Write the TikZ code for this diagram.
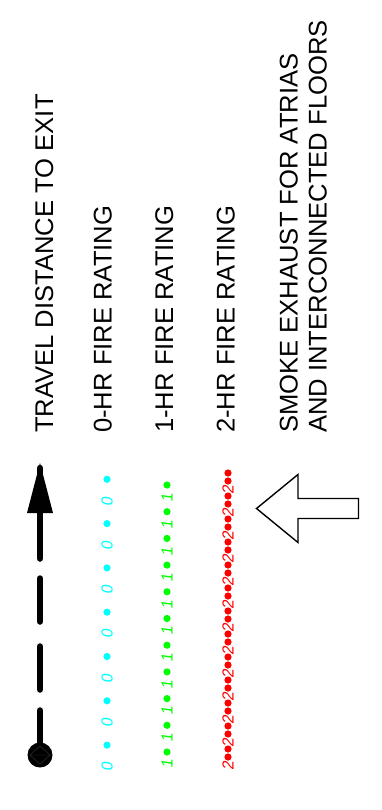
\documentclass[tikz,border=0pt]{standalone}
\usepackage{fontspec}
\setmainfont{Liberation Sans}
\newfontfamily\cadfont[FakeSlant=0.15]{Liberation Sans}
\definecolor{cadcyan}{RGB}{0,255,255}
\definecolor{cadgreen}{RGB}{0,255,0}
\definecolor{cadred}{RGB}{255,0,0}

\begin{document}
\begin{tikzpicture}[x=1pt,y=-1pt,
  legendtext/.style={rotate=90, anchor=base west, inner sep=0pt,
    font=\fontsize{25.6}{29}\selectfont},
  linetext/.style={rotate=90, inner sep=0pt, text=#1,
    font=\cadfont\fontsize{16}{16}\selectfont},
  linedot/.style={circle, fill=#1, inner sep=0pt, minimum size=7.2pt},
  travel/.style={line width=6.5pt, line cap=round},
  exhaust/.style={line width=1.4pt, line join=miter}]
\useasboundingbox (0,0) rectangle (382,810);

% ---- legend texts ----
\node[legendtext] (ttravel) at (53,433)    {TRAVEL DISTANCE TO EXIT};
\node[legendtext] (tzero)   at (111.5,433) {0-HR FIRE RATING};
\node[legendtext] (tone)    at (173,433)   {1-HR FIRE RATING};
\node[legendtext] (ttwo)    at (234.5,433) {2-HR FIRE RATING};
\node[legendtext] (tsmokea) at (297.5,433) {SMOKE EXHAUST FOR ATRIAS};
\node[legendtext] (tsmokeb) at (326.5,433) {AND INTERCONNECTED FLOORS};

% ---- travel distance to exit: dashed line with arrow and start circle ----
\coordinate (tip) at (40,463);
\coordinate (headbase) at (40,513);
\coordinate (start) at (40,755);
\fill (tip) -- (27,513) -- (53,513) -- cycle;
\draw[travel] (40,468) -- (40,558.5);
\draw[travel] (40,578.5) -- (40,621.5);
\draw[travel] (40,646.5) -- (40,689.5);
\draw[travel] (40,710.5) -- (start);
\fill (start) circle (12.5);
\draw[black!80!white, line width=0.4pt] (29,755) -- (51,755)
  (30,755) -- (40,746) -- (50,755) -- (40,764) -- cycle;

% ---- 0-HR fire rating ----
\foreach \i in {0,...,6} {
  \node[linedot=cadcyan] (zd\i) at (107,479.3+44.3*\i) {};
  \node[linetext=cadcyan] (zt\i) at (107,501.6+44.3*\i) {0};
}

% ---- 1-HR fire rating ----
\foreach \i in {0,...,10} {
  \node[linedot=cadgreen] (od\i) at (167,485+26.7*\i) {};
  \node[linetext=cadgreen] (ot\i) at (167,498.5+26.6*\i) {1};
}

% ---- 2-HR fire rating ----
\foreach \i in {0,...,12} {
  \node[linedot=cadred] (wa\i) at (228,473+23*\i) {};
  \node[linedot=cadred] (wb\i) at (228,481+23*\i) {};
  \node[linetext=cadred] (wt\i) at (228,490.5+23*\i) {2};
}

% ---- smoke exhaust arrow ----
\draw[exhaust] (256.5,508.5) -- (298,474.5) -- (298,498.5) -- (358.5,498.5)
  -- (358.5,518.5) -- (298,518.5) -- (298,542.5) -- cycle;
\end{tikzpicture}
\end{document}
